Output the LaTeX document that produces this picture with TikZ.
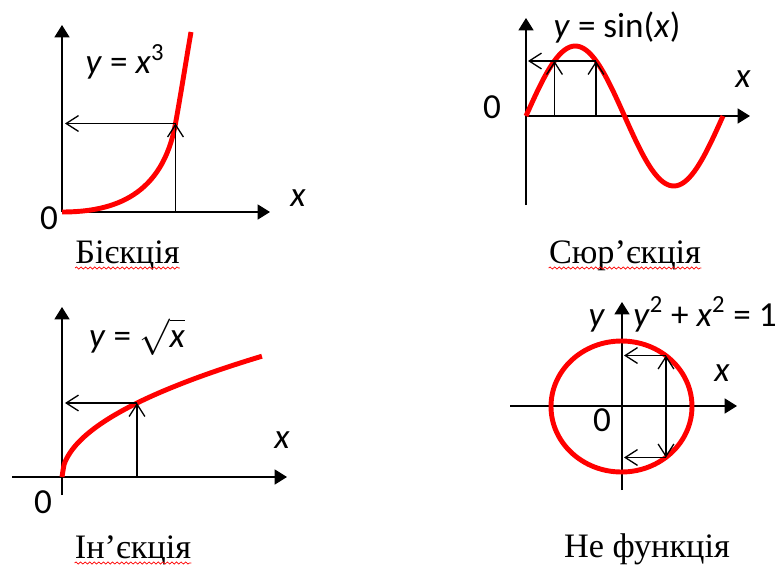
\documentclass[tikz,border=0pt]{standalone}
\usepackage{fontspec}
\setmainfont{Liberation Serif}
\newfontfamily\formfont{Carlito}
\usetikzlibrary{arrows.meta, calc, decorations.pathmorphing}

\begin{document}
\begin{tikzpicture}[
  vis/.style={draw=black, line width=0.85pt, -{Triangle[length=7pt, width=8.5pt]}},
  kryva/.style={draw=red, line width=2.8pt},
  strilka/.style={draw=black, line width=0.75pt, -{Straight Barb[length=7pt, width=9pt]}},
  dvostrilka/.style={strilka, {Straight Barb[length=7pt, width=9pt]}-{Straight Barb[length=7pt, width=9pt]}},
  formula/.style={font=\formfont\fontsize{20}{24}\selectfont, inner sep=0pt},
  pidpys/.style={font=\fontsize{19.5}{23}\selectfont, anchor=base, inner sep=0pt},
  khvylia/.style={draw=red, line width=0.4pt, decorate,
                  decoration={snake, amplitude=0.6pt, segment length=2.6pt}}
]
\useasboundingbox (0,0) rectangle (15.58,-11.34);

% ---- Бієкція: y = x^3 ------------------------------------------------
\coordinate (o1) at (1.24,-4.24);
\coordinate (p1) at (3.51,-2.47);
\draw[vis] (o1) -- (5.40,-4.24);
\draw[vis] (o1) -- (1.24,-0.50);
\draw[kryva] (o1) .. controls (2.30,-4.24) and (3.25,-3.90) .. (p1)
                  .. controls (3.61,-1.92) and (3.74,-1.10) .. (3.82,-0.64);
\draw[strilka] (p1 |- o1) -- (p1);
\draw[strilka] (p1) -- ($(p1 -| o1)+(0.06,0)$);
\node[formula] (f1) at (2.50,-1.24) {\textit{y} = \textit{x}\textsuperscript{3}};
\node[formula] (n1) at (0.98,-4.36) {0};
\node[formula] (x1) at (5.96,-3.96) {\textit{x}};
\node[pidpys] (c1) at (2.55,-5.26) {Бієкція};
\draw[khvylia] ([yshift=-0.1cm]c1.base west) -- ([yshift=-0.1cm]c1.base east);

% ---- Сюр'єкція: y = sin(x) -------------------------------------------
\coordinate (o2) at (10.52,-2.32);
\coordinate (p2a) at (11.09,-1.22);
\coordinate (p2b) at (11.92,-1.22);
\draw[vis] (o2) -- (15.00,-2.32);
\draw[vis] (10.52,-4.10) -- (10.52,-0.36);
\draw[kryva] plot[domain=0:360, samples=90, smooth] ({10.52+3.94*\x/360},{-2.32+1.40*sin(\x)});
\draw[strilka] (p2a |- o2) -- (p2a);
\draw[strilka] (p2b |- o2) -- (p2b);
\draw[strilka] (p2b) -- ($(p2b -| o2)+(0.04,0)$);
\node[formula] (f2) at (12.34,-0.54) {\textit{y} = sin(\textit{x})};
\node[formula] (n2) at (9.84,-2.14) {0};
\node[formula] (x2) at (14.86,-1.58) {\textit{x}};
\node[pidpys] (c2) at (12.50,-5.26) {Сюр’єкція};
\draw[khvylia] ([yshift=-0.1cm]c2.base west) -- ([yshift=-0.1cm]c2.base east);

% ---- Ін'єкція: y = sqrt(x) -------------------------------------------
\coordinate (o3) at (1.24,-9.54);
\coordinate (p3) at (2.74,-8.06);
\draw[vis] (0.24,-9.54) -- (5.74,-9.54);
\draw[vis] (1.24,-9.90) -- (1.24,-6.14);
\draw[kryva] plot[domain=0:4, samples=100, smooth] ({1.24+\x},{-9.54+1.208*sqrt(\x)});
\draw[strilka] (p3 |- o3) -- (p3);
\draw[strilka] (p3) -- ($(p3 -| o3)+(0.06,0)$);
\node[formula] (f3) at (2.74,-6.74) {\textit{y} = $\sqrt{\textit{x}}$};
\node[formula] (n3) at (0.86,-10.04) {0};
\node[formula] (x3) at (5.64,-8.80) {\textit{x}};
\node[pidpys] (c3) at (2.66,-11.16) {Ін’єкція};
\draw[khvylia] ([yshift=-0.1cm]c3.base west) -- ([yshift=-0.1cm]c3.base east);

% ---- Не функція: y^2 + x^2 = 1 ---------------------------------------
\coordinate (o4) at (12.44,-8.12);
\coordinate (p4a) at (13.32,-7.11);
\coordinate (p4b) at (13.32,-9.15);
\draw[vis] (10.20,-8.12) -- (14.74,-8.12);
\draw[vis] (12.44,-9.80) -- (12.44,-6.04);
\draw[kryva] (12.43,-8.13) ellipse [x radius=1.41, y radius=1.31];
\draw[dvostrilka] (p4a) -- (p4b);
\draw[strilka] (p4a) -- ($(p4a -| o4)+(0.04,0)$);
\draw[strilka] (p4b) -- ($(p4b -| o4)+(0.04,0)$);
\node[formula, anchor=base west] (f4) at (12.66,-6.52) {\textit{y}\textsuperscript{2} + \textit{x}\textsuperscript{2} = 1};
\node[formula, anchor=base] (y4) at (11.94,-6.52) {\textit{y}};
\node[formula] (n4) at (12.04,-8.40) {0};
\node[formula] (x4) at (14.44,-7.46) {\textit{x}};
\node[pidpys] (c4) at (12.94,-11.14) {Не функція};

\end{tikzpicture}
\end{document}
